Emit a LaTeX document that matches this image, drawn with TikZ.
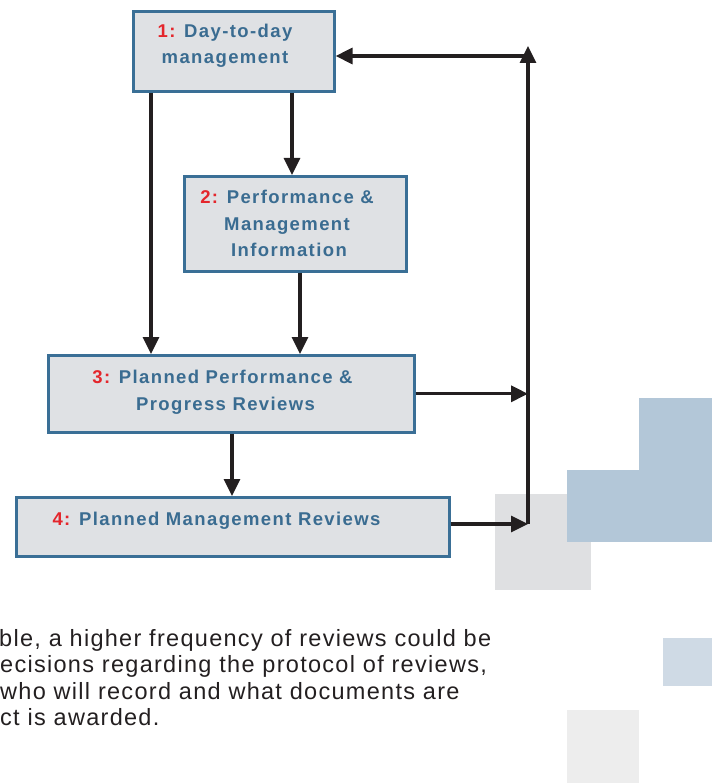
\documentclass[tikz,border=0pt]{standalone}
\usepackage{fontspec}
\setmainfont{Liberation Sans}
\newfontfamily\lblfont{Liberation Sans}[LetterSpace=7.5]
\newfontfamily\bodyfont{Liberation Sans}[LetterSpace=5.5]
\usetikzlibrary{arrows.meta}
\definecolor{boxblue}{HTML}{3A6F96}
\definecolor{boxfill}{HTML}{DFE1E4}
\definecolor{numred}{HTML}{E4262C}
\definecolor{txtblue}{HTML}{3A6C91}
\definecolor{arrowk}{HTML}{231F20}
\definecolor{bodyk}{HTML}{231F20}
\definecolor{sqgray}{HTML}{DFE0E2}
\definecolor{sqblue}{HTML}{B3C7D8}
\definecolor{sqlblue}{HTML}{CFDAE5}
\definecolor{sqlgray}{HTML}{EDEDED}
\begin{document}
\begin{tikzpicture}[x=1pt,y=-1pt,
  box/.style={draw=boxblue,fill=boxfill,line width=2.6pt,inner sep=0pt,anchor=north west},
  lbl/.style={font=\lblfont\bfseries\fontsize{18.5}{22}\selectfont,text=txtblue,inner sep=0pt,anchor=base},
  arr/.style={draw=arrowk,line width=3.2pt,-{Triangle[length=17pt,width=16pt]}},
  body/.style={font=\bodyfont\fontsize{23.5}{26}\selectfont,text=bodyk,inner sep=0pt,anchor=base west}]
\useasboundingbox (0,0) rectangle (712,783);
\clip (0,0) rectangle (712,783);
% decorative squares
\fill[sqgray] (495,494) rectangle (591,590);
\fill[sqblue] (567,470) rectangle (712,542);
\fill[sqblue] (639,398) rectangle (712,471);
\fill[sqlblue] (663,638) rectangle (712,686);
\fill[sqlgray] (567,710) rectangle (639,783);
% boxes
\node[box,minimum width=201pt,minimum height=80pt] (b1) at (132,10) {};
\node[box,minimum width=222pt,minimum height=95pt] (b2) at (183,175) {};
\node[box,minimum width=366pt,minimum height=77pt] (b3) at (47,354) {};
\node[box,minimum width=433pt,minimum height=59pt] (b4) at (15,496) {};
% labels
\node[lbl] (t1a) at (225,37.5) {\textcolor{numred}{1:} Day-to-day};
\node[lbl] (t1b) at (225,64) {management};
\node[lbl] (t2a) at (287,204) {\textcolor{numred}{2:} Performance \&};
\node[lbl] (t2b) at (287,230.5) {Management};
\node[lbl] (t2c) at (289,257) {Information};
\node[lbl] (t3a) at (222.5,383) {\textcolor{numred}{3:} Planned Performance \&};
\node[lbl] (t3b) at (225.5,410) {Progress Reviews};
\node[lbl] (t4) at (216.5,525) {\textcolor{numred}{4:} Planned Management Reviews};
% helper coordinates
\coordinate (c151) at (151,0);
\coordinate (c292) at (292,0);
\coordinate (c300) at (300,0);
\coordinate (c232) at (232,0);
\coordinate (busb) at (528,524);
\coordinate (bust) at (528,46);
\coordinate (busr) at (528,56);
% connectors
\draw[arr] (b1.south -| c151) -- (b3.north -| c151);
\draw[arr] (b1.south -| c292) -- (b2.north -| c292);
\draw[arr] (b2.south -| c300) -- (b3.north -| c300);
\draw[arr] (b3.south -| c232) -- (b4.north -| c232);
\draw[arr] (b3.east) -- (b3.east -| busb);
\draw[arr] (b4.east |- busb) -- (busb);
\draw[arr] (busb) -- (bust);
\draw[arr] (busr) -- (b1.east |- busr);
% body text
\node[body] (p1) at (-1,646) {ble, a higher frequency of reviews could be};
\node[body] (p2) at (0,672.5) {ecisions regarding the protocol of reviews,};
\node[body] (p3) at (0,699) {who will record and what documents are};
\node[body] (p4) at (0,725.5) {ct is awarded.};
\end{tikzpicture}
\end{document}
